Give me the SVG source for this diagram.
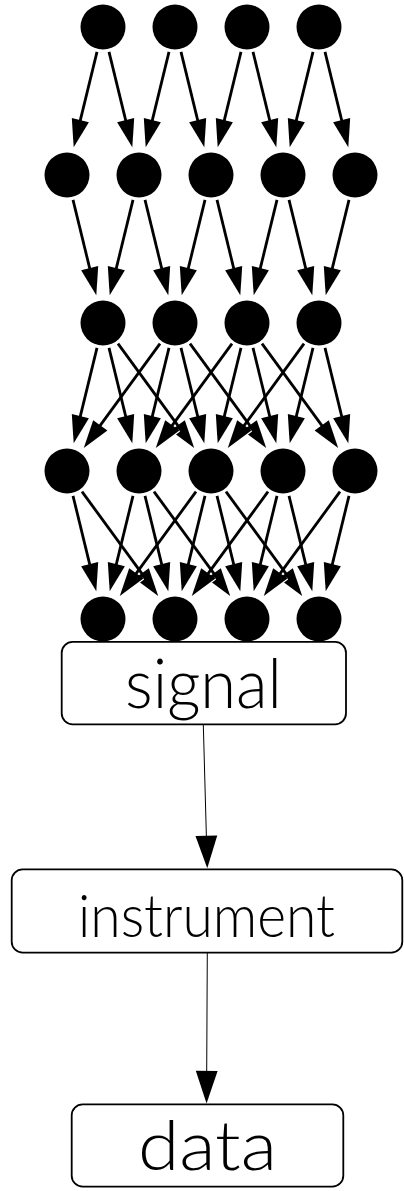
<svg xmlns="http://www.w3.org/2000/svg" width="404" height="1191" viewBox="0 0 404 1191">
<style>
.nd{fill:#000}
.e{stroke:#000;stroke-width:2.8;fill:none;marker-end:url(#ah)}
.t{stroke:#000;stroke-width:1;fill:none;marker-end:url(#ahs)}
.box{fill:#fff;stroke:#000;stroke-width:1.8}
.lbl{font-family:Lato,"Liberation Sans",sans-serif;font-weight:300;fill:#000}
</style>
<defs>
<marker id="ah" markerUnits="userSpaceOnUse" orient="auto" overflow="visible" markerWidth="30" markerHeight="20" refX="0" refY="0">
<path d="M-1,-8.8 L27,0 L-1,8.8" fill="none" stroke="#fff" stroke-width="2.4"/>
<path d="M-1,-8.8 L27,0 L-1,8.8 z" fill="#000"/>
</marker>
<marker id="ahs" markerUnits="userSpaceOnUse" orient="auto" overflow="visible" markerWidth="34" markerHeight="24" refX="0" refY="0">
<path d="M-1,-10.9 L31.6,0 L-1,10.9 z" fill="#000"/>
</marker>
</defs>
<rect width="404" height="1191" fill="#fff"/>
<g id="connectors">
<line class="e" x1="97" y1="51.8" x2="80.1" y2="121.1"/>
<line class="e" x1="109" y1="51.8" x2="125.9" y2="121.1"/>
<line class="e" x1="169" y1="51.8" x2="152.1" y2="121.1"/>
<line class="e" x1="181" y1="51.8" x2="197.9" y2="121.1"/>
<line class="e" x1="241" y1="51.8" x2="224.1" y2="121.1"/>
<line class="e" x1="253" y1="51.8" x2="269.9" y2="121.1"/>
<line class="e" x1="313" y1="51.8" x2="296.1" y2="121.1"/>
<line class="e" x1="325" y1="51.8" x2="341.9" y2="121.1"/>

<line class="e" x1="73" y1="199.8" x2="89.9" y2="269.1"/>
<line class="e" x1="133" y1="199.8" x2="116.1" y2="269.1"/>
<line class="e" x1="145" y1="199.8" x2="161.9" y2="269.1"/>
<line class="e" x1="205" y1="199.8" x2="188.1" y2="269.1"/>
<line class="e" x1="217" y1="199.8" x2="233.9" y2="269.1"/>
<line class="e" x1="277" y1="199.8" x2="260.1" y2="269.1"/>
<line class="e" x1="289" y1="199.8" x2="305.9" y2="269.1"/>
<line class="e" x1="349" y1="199.8" x2="332.1" y2="269.1"/>

<line class="e" x1="97" y1="347.8" x2="80.1" y2="417.1"/>
<line class="e" x1="109" y1="347.8" x2="125.9" y2="417.1"/>
<line class="e" x1="118" y1="343.6" x2="178.3" y2="426.2"/>
<line class="e" x1="160" y1="343.6" x2="99.7" y2="426.2"/>
<line class="e" x1="169" y1="347.8" x2="152.1" y2="417.1"/>
<line class="e" x1="181" y1="347.8" x2="197.9" y2="417.1"/>
<line class="e" x1="190" y1="343.6" x2="250.3" y2="426.2"/>
<line class="e" x1="232" y1="343.6" x2="171.7" y2="426.2"/>
<line class="e" x1="241" y1="347.8" x2="224.1" y2="417.1"/>
<line class="e" x1="253" y1="347.8" x2="269.9" y2="417.1"/>
<line class="e" x1="262" y1="343.6" x2="322.3" y2="426.2"/>
<line class="e" x1="304" y1="343.6" x2="243.7" y2="426.2"/>
<line class="e" x1="313" y1="347.8" x2="296.1" y2="417.1"/>
<line class="e" x1="325" y1="347.8" x2="341.9" y2="417.1"/>

<line class="e" x1="73" y1="495.8" x2="89.9" y2="565.1"/>
<line class="e" x1="82" y1="491.6" x2="142.3" y2="574.2"/>
<line class="e" x1="133" y1="495.8" x2="116.1" y2="565.1"/>
<line class="e" x1="145" y1="495.8" x2="161.9" y2="565.1"/>
<line class="e" x1="154" y1="491.6" x2="214.3" y2="574.2"/>
<line class="e" x1="196" y1="491.6" x2="135.7" y2="574.2"/>
<line class="e" x1="205" y1="495.8" x2="188.1" y2="565.1"/>
<line class="e" x1="217" y1="495.8" x2="233.9" y2="565.1"/>
<line class="e" x1="226" y1="491.6" x2="286.3" y2="574.2"/>
<line class="e" x1="268" y1="491.6" x2="207.7" y2="574.2"/>
<line class="e" x1="277" y1="495.8" x2="260.1" y2="565.1"/>
<line class="e" x1="289" y1="495.8" x2="305.9" y2="565.1"/>
<line class="e" x1="340" y1="491.6" x2="279.7" y2="574.2"/>
<line class="e" x1="349" y1="495.8" x2="332.1" y2="565.1"/>

<line class="t" x1="203.3" y1="724.3" x2="206.4" y2="836.7"/>
<line class="t" x1="207.3" y1="952.7" x2="206.7" y2="1071.9"/>
</g>
<g id="n1_1"><circle class="nd" cx="103" cy="27" r="22.5"/></g>
<g id="n1_2"><circle class="nd" cx="175" cy="27" r="22.5"/></g>
<g id="n1_3"><circle class="nd" cx="247" cy="27" r="22.5"/></g>
<g id="n1_4"><circle class="nd" cx="319" cy="27" r="22.5"/></g>
<g id="n2_1"><circle class="nd" cx="67" cy="175" r="22.5"/></g>
<g id="n2_2"><circle class="nd" cx="139" cy="175" r="22.5"/></g>
<g id="n2_3"><circle class="nd" cx="211" cy="175" r="22.5"/></g>
<g id="n2_4"><circle class="nd" cx="283" cy="175" r="22.5"/></g>
<g id="n2_5"><circle class="nd" cx="355" cy="175" r="22.5"/></g>
<g id="n3_1"><circle class="nd" cx="103" cy="323" r="22.5"/></g>
<g id="n3_2"><circle class="nd" cx="175" cy="323" r="22.5"/></g>
<g id="n3_3"><circle class="nd" cx="247" cy="323" r="22.5"/></g>
<g id="n3_4"><circle class="nd" cx="319" cy="323" r="22.5"/></g>
<g id="n4_1"><circle class="nd" cx="67" cy="471" r="22.5"/></g>
<g id="n4_2"><circle class="nd" cx="139" cy="471" r="22.5"/></g>
<g id="n4_3"><circle class="nd" cx="211" cy="471" r="22.5"/></g>
<g id="n4_4"><circle class="nd" cx="283" cy="471" r="22.5"/></g>
<g id="n4_5"><circle class="nd" cx="355" cy="471" r="22.5"/></g>
<g id="n5_1"><circle class="nd" cx="103" cy="619" r="22.5"/></g>
<g id="n5_2"><circle class="nd" cx="175" cy="619" r="22.5"/></g>
<g id="n5_3"><circle class="nd" cx="247" cy="619" r="22.5"/></g>
<g id="n5_4"><circle class="nd" cx="319" cy="619" r="22.5"/></g>
<g id="signal">
<rect class="box" x="61.7" y="641.9" width="284.3" height="82.4" rx="11"/>
<text class="lbl" x="125" y="708.3" font-size="68" textLength="157" lengthAdjust="spacingAndGlyphs">signal</text>
</g>
<g id="instrument">
<rect class="box" x="11.7" y="869.3" width="390.6" height="83.4" rx="11"/>
<text class="lbl" x="78" y="936.7" font-size="60" textLength="257" lengthAdjust="spacingAndGlyphs">instrument</text>
</g>
<g id="data">
<rect class="box" x="71.7" y="1104.3" width="271.6" height="82.4" rx="11"/>
<text class="lbl" x="138" y="1170" font-size="68" textLength="139" lengthAdjust="spacingAndGlyphs">data</text>
</g>
</svg>
